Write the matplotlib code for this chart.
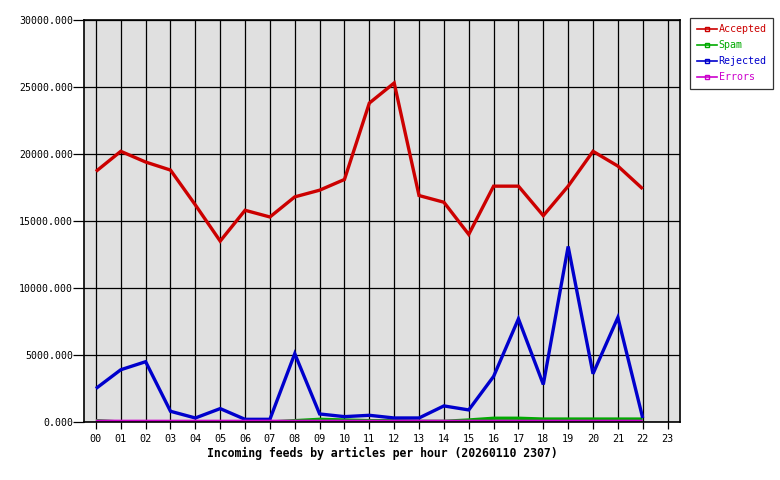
import matplotlib
matplotlib.use("Agg")
import matplotlib.pyplot as plt
from matplotlib.lines import Line2D

# hours and article counts
hours = ["%02d" % h for h in range(24)]
accepted = [18700, 20200, 19400, 18800, 16200, 13500, 15800, 15300, 16800, 17300,
            18100, 23800, 25300, 16900, 16400, 14000, 17600, 17600, 15400, 17600,
            20200, 19100, 17400]
spam = [100, 0, 0, 0, 0, 0, 0, 0, 100, 200, 150, 100, 100, 50, 50, 150,
        280, 280, 220, 220, 220, 220, 220]
rejected = [2500, 3900, 4500, 800, 300, 1000, 200, 200, 5100, 600,
            400, 500, 300, 300, 1200, 900, 3400, 7700, 2800, 13100,
            3600, 7800, 300]
errors = [60, 50, 50, 50, 50, 50, 50, 50, 50, 50, 50, 50, 50, 50, 50, 50,
          50, 50, 50, 50, 50, 50, 50]
yticks = [0, 5000, 10000, 15000, 20000, 25000, 30000]

series = [("Accepted", accepted, "#cc0000"),
          ("Spam", spam, "#00aa00"),
          ("Rejected", rejected, "#0000cc"),
          ("Errors", errors, "#cc00cc")]

mono = "DejaVu Sans Mono"

fig = plt.figure(figsize=(7.8, 4.8), dpi=100)
ax = fig.add_axes([84 / 780, 58 / 480, 596 / 780, 402 / 480])
ax.set_facecolor("#e0e0e0")

# grid first, then data on top
for x in range(24):
    ax.axvline(x, color="black", lw=0.9, zorder=1)
for y in yticks:
    ax.axhline(y, color="black", lw=0.9, zorder=1)

for i, (name, vals, col) in enumerate(series):
    ax.plot(range(len(vals)), vals, color=col, lw=2.4, solid_joinstyle="miter",
            solid_capstyle="butt", zorder=3 + i * 0.1)

ax.set_xlim(-0.48, 23.5)
ax.set_ylim(0, 30000)
ax.set_xticks(range(24))
ax.set_xticklabels(hours, fontfamily=mono, fontsize=7.3)
ax.set_yticks(yticks)
ax.set_yticklabels(["%.3f" % v for v in yticks], fontfamily=mono, fontsize=7.1)
ax.tick_params(axis="y", length=8, width=0.9, pad=0)
ax.tick_params(axis="x", length=5, width=0.9, pad=4)
for s in ax.spines.values():
    s.set_linewidth(1.2)
    s.set_zorder(5)

ax.set_xlabel("Incoming feeds by articles per hour (20260110 2307)",
              fontfamily=mono, fontweight="bold", fontsize=8.3, labelpad=2)

handles = [Line2D([0], [0], color=c, lw=1.2, marker="s", markersize=3,
                  markerfacecolor="none", markeredgecolor=c)
           for _, _, c in series]
leg = fig.legend(handles, [n for n, _, _ in series], loc="upper left",
                 bbox_to_anchor=(690 / 780, 1 - 18 / 480), numpoints=1,
                 prop={"family": mono, "size": 7.2}, frameon=True,
                 fancybox=False, handlelength=2.0, handletextpad=0.2,
                 borderpad=0.65, labelspacing=0.6, borderaxespad=0)
leg.get_frame().set_edgecolor("black")
leg.get_frame().set_linewidth(0.9)
for t, (_, _, c) in zip(leg.get_texts(), series):
    t.set_color(c)

fig.savefig("out.png", dpi=100)
